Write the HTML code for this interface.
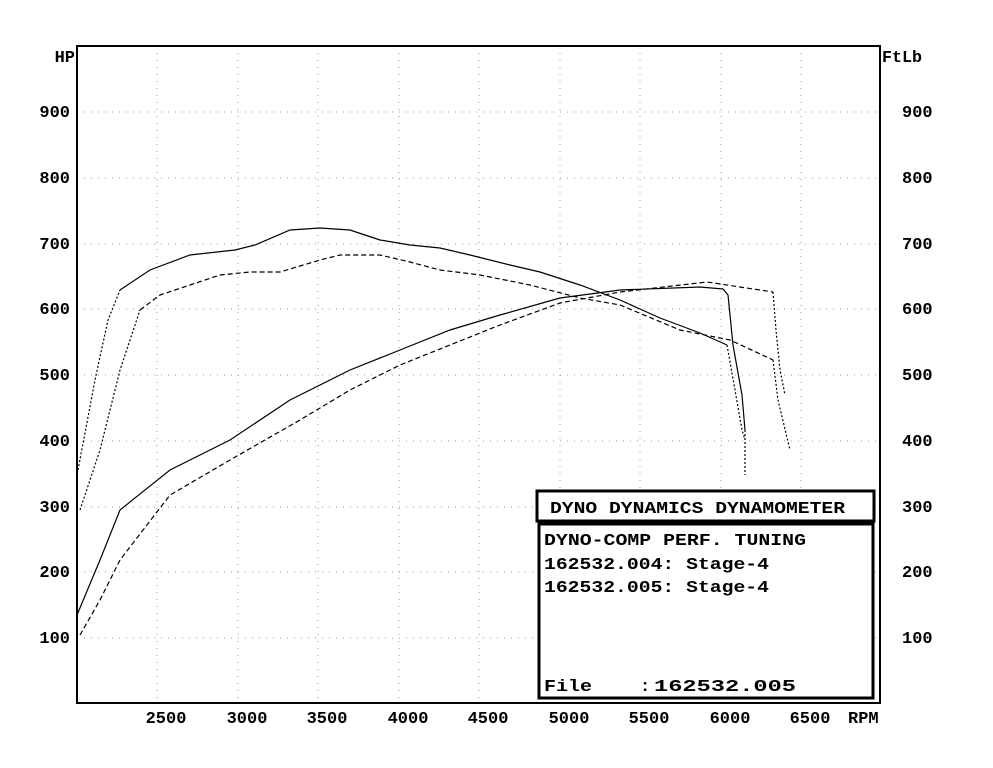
<!DOCTYPE html>
<html><head><style>
body{margin:0;background:#fff;}
svg text{font-family:"Liberation Mono",monospace;font-weight:bold;font-size:17px;fill:#000;}
</style></head><body>
<svg width="993" height="763" xmlns="http://www.w3.org/2000/svg">
<rect width="993" height="763" fill="#fff"/>
<g stroke="#999" stroke-width="1" stroke-dasharray="1,6">
<line x1="77" y1="112" x2="880" y2="112"/><line x1="77" y1="178" x2="880" y2="178"/><line x1="77" y1="244" x2="880" y2="244"/><line x1="77" y1="309" x2="880" y2="309"/><line x1="77" y1="375" x2="880" y2="375"/><line x1="77" y1="441" x2="880" y2="441"/><line x1="77" y1="507" x2="880" y2="507"/><line x1="77" y1="572" x2="880" y2="572"/><line x1="77" y1="638" x2="880" y2="638"/>
<line x1="157" y1="46" x2="157" y2="703"/><line x1="238" y1="46" x2="238" y2="703"/><line x1="318" y1="46" x2="318" y2="703"/><line x1="399" y1="46" x2="399" y2="703"/><line x1="479" y1="46" x2="479" y2="703"/><line x1="560" y1="46" x2="560" y2="703"/><line x1="640" y1="46" x2="640" y2="703"/><line x1="721" y1="46" x2="721" y2="703"/><line x1="801" y1="46" x2="801" y2="703"/>
</g>
<rect x="77" y="46" width="803" height="657" fill="none" stroke="#000" stroke-width="2"/>
<g fill="none" stroke="#000" stroke-width="1.2">
<polyline stroke-dasharray="2,2" points="78,470 95,380 108,320 120,290"/>
<polyline points="120,290 150,270 190,255 235,250 255,245 290,230 320,228 350,230 380,240 410,245 440,248 470,255 510,265 540,272 580,285 620,300 660,318 700,333 727,345"/>
<polyline stroke-dasharray="2,2" points="727,345 735,390 742,430 745,440"/>
<polyline stroke-dasharray="2,2" points="80,510 100,450 120,370 140,310"/>
<polyline stroke-dasharray="5,3" points="140,310 160,295 190,285 220,275 250,272 280,272 320,260 340,255 380,255 410,262 440,270 480,275 530,285 580,298 620,305 680,330 730,340 773,360"/>
<polyline stroke-dasharray="2,2" points="773,360 778,400 790,450"/>
<polyline points="77,615 100,560 120,510 170,470 230,440 290,400 350,370 400,350 450,330 500,315 560,298 620,290 700,287 723,289 728,295 733,345 742,395 745,430"/>
<polyline stroke-dasharray="2,2" points="745,430 745,475"/>
<polyline stroke-dasharray="5,3" points="80,635 100,600 120,560 170,495 230,460 300,420 350,390 400,365 450,345 500,325 560,303 620,292 707,282 773,292"/>
<polyline stroke-dasharray="2,2" points="773,292 776,330 780,370 785,395"/>
</g>
<rect x="537" y="491" width="337" height="30" fill="#fff" stroke="#000" stroke-width="3"/>
<rect x="539" y="524" width="334" height="174" fill="#fff" stroke="#000" stroke-width="3"/>
<text x="550" y="513" textLength="295" lengthAdjust="spacingAndGlyphs">DYNO DYNAMICS DYNAMOMETER</text>
<text x="544" y="545" textLength="262" lengthAdjust="spacingAndGlyphs">DYNO-COMP PERF. TUNING</text>
<text x="544" y="569" textLength="225" lengthAdjust="spacingAndGlyphs">162532.004: Stage-4</text>
<text x="544" y="592" textLength="225" lengthAdjust="spacingAndGlyphs">162532.005: Stage-4</text>
<text x="544" y="691" textLength="48" lengthAdjust="spacingAndGlyphs">File</text>
<text x="640" y="691">:</text>
<text x="654" y="691" textLength="142" lengthAdjust="spacingAndGlyphs">162532.005</text>
<g text-anchor="end">
<text x="75" y="62">HP</text>
<text x="70" y="117">900</text><text x="70" y="183">800</text><text x="70" y="249">700</text><text x="70" y="314">600</text><text x="70" y="380">500</text><text x="70" y="446">400</text><text x="70" y="512">300</text><text x="70" y="577">200</text><text x="70" y="643">100</text>
</g>
<text x="882" y="62" textLength="40" lengthAdjust="spacingAndGlyphs">FtLb</text>
<text x="902" y="117">900</text><text x="902" y="183">800</text><text x="902" y="249">700</text><text x="902" y="314">600</text><text x="902" y="380">500</text><text x="902" y="446">400</text><text x="902" y="512">300</text><text x="902" y="577">200</text><text x="902" y="643">100</text>
<g text-anchor="middle">
<text x="166" y="723">2500</text><text x="247" y="723">3000</text><text x="327" y="723">3500</text><text x="408" y="723">4000</text><text x="488" y="723">4500</text><text x="569" y="723">5000</text><text x="649" y="723">5500</text><text x="730" y="723">6000</text><text x="810" y="723">6500</text>
</g>
<text x="848" y="723">RPM</text>
</svg>
</body></html>
